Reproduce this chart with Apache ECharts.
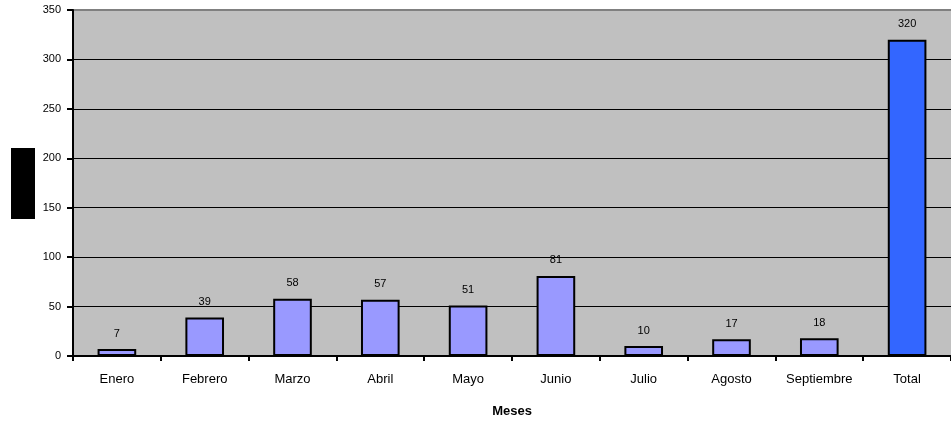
<!DOCTYPE html>
<html><head><meta charset="utf-8">
<script src="https://cdn.jsdelivr.net/npm/echarts@6/dist/echarts.min.js"></script>
<style>html,body{margin:0;padding:0;background:#fff}#c{width:951px;height:423px}</style>
</head><body><div id="c"></div>
<script>
var categories = ['Enero','Febrero','Marzo','Abril','Mayo','Junio','Julio','Agosto','Septiembre','Total'];
var values = [7,39,58,57,51,81,10,17,18,320];
var yTicks = [0,50,100,150,200,250,300,350];

var chart = echarts.init(document.getElementById('c'));
var font = '"Liberation Sans", Arial, sans-serif';
chart.setOption({
  animation:false,
  grid:{left:73,top:10,right:0,bottom:67,show:true,backgroundColor:'#c0c0c0',borderWidth:0},
  xAxis:{type:'category',data:categories,
    name:'Meses',nameLocation:'middle',nameGap:49,
    nameTextStyle:{fontFamily:font,fontSize:13,fontWeight:'bold',color:'#000'},
    axisLine:{lineStyle:{color:'#000',width:2}},
    axisTick:{show:true,alignWithLabel:false,length:5,lineStyle:{color:'#000',width:2}},
    axisLabel:{fontFamily:font,fontSize:13,color:'#000',margin:17}
  },
  yAxis:{type:'value',min:0,max:yTicks[yTicks.length-1],interval:50,
    axisLine:{show:true,lineStyle:{color:'#000',width:2}},
    axisTick:{show:true,length:6,lineStyle:{color:'#000',width:2}},
    axisLabel:{fontFamily:font,fontSize:11,color:'#000',margin:12},
    splitLine:{show:true,lineStyle:{color:['#000','#000','#000','#000','#000','#000','#000','#808080'],width:1}}
  },
  graphic:[
    {type:'rect',shape:{x:11,y:148,width:24,height:71},style:{fill:'#000'}},
    {type:'line',shape:{x1:73,y1:10,x2:951,y2:10},style:{stroke:'#808080',lineWidth:2}}
  ],
  series:[{type:'bar',barWidth:'44%',
    data:values.map(function(v,i){return {value:v,itemStyle:{color:i===values.length-1?'#3366ff':'#9999ff'}};}),
    itemStyle:{borderColor:'#000',borderWidth:2},
    label:{show:true,position:'top',distance:10,fontFamily:font,fontSize:11,color:'#000'}
  }]
});
</script></body></html>
